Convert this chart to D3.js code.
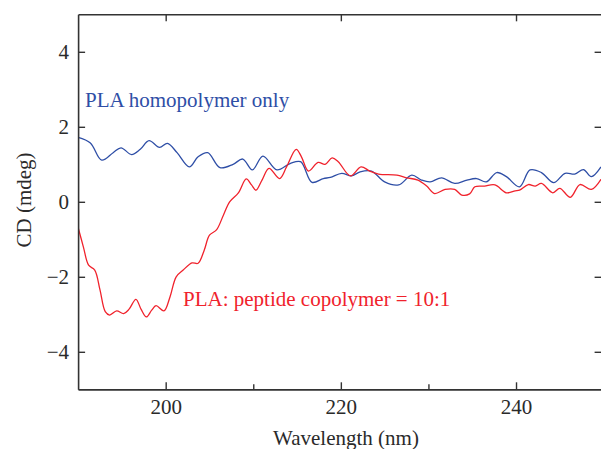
<!DOCTYPE html>
<html>
<head>
<meta charset="utf-8">
<script src="https://cdn.jsdelivr.net/npm/d3@7"></script>
<style>
 body { margin: 0; background: #fff; }
 svg text { font-family: "Liberation Serif", "DejaVu Serif", serif; }
</style>
</head>
<body>
<script>
'use strict'
// CD spectra: PLA homopolymer vs PLA:peptide copolymer

// wavelength (nm) and CD (mdeg) for the homopolymer
const homoWave = [190.0, 191.4, 192.7, 194.0, 194.9, 196.1, 197.1, 198.1, 199.3, 200.2, 201.3, 202.7, 203.7, 204.8, 206.2, 207.7, 208.8, 209.9, 211.1, 212.7, 214.2, 215.4, 216.7, 218.0, 218.8, 220.1, 221.2, 222.2, 223.5, 225.0, 226.6, 228.1, 229.2, 230.2, 231.5, 233.0, 234.4, 235.5, 236.6, 237.8, 238.9, 240.4, 241.6, 242.9, 244.3, 245.6, 246.7, 247.7, 248.6, 249.7];
const homoCD = [1.72, 1.57, 1.11, 1.31, 1.44, 1.26, 1.40, 1.63, 1.45, 1.56, 1.31, 0.93, 1.20, 1.31, 0.91, 1.00, 1.14, 0.85, 1.22, 0.85, 1.02, 1.07, 0.52, 0.62, 0.65, 0.76, 0.69, 0.80, 0.82, 0.53, 0.45, 0.71, 0.58, 0.53, 0.64, 0.49, 0.58, 0.62, 0.53, 0.78, 0.67, 0.40, 0.85, 0.78, 0.51, 0.76, 0.74, 0.86, 0.67, 0.93];

// wavelength (nm) and CD (mdeg) for the 10:1 copolymer
const copoWave = [190.0, 190.6, 191.2, 191.9, 192.5, 193.1, 193.6, 194.4, 195.2, 195.8, 196.6, 197.2, 197.8, 198.4, 198.9, 199.8, 200.5, 201.2, 202.0, 203.0, 203.7, 204.4, 205.0, 205.8, 206.6, 207.3, 208.3, 209.2, 209.8, 210.3, 211.0, 211.8, 213.0, 213.8, 214.9, 215.5, 216.3, 217.4, 218.2, 219.0, 219.7, 221.1, 222.3, 223.3, 224.3, 226.4, 227.5, 228.8, 229.8, 230.7, 231.9, 233.0, 233.8, 234.7, 235.3, 236.4, 237.6, 238.9, 239.9, 240.4, 241.4, 242.2, 242.9, 244.2, 245.0, 246.2, 247.3, 248.6, 249.7];
const copoCD = [-0.68, -1.20, -1.69, -1.82, -2.35, -2.93, -3.02, -2.91, -2.98, -2.87, -2.60, -2.87, -3.07, -2.89, -2.77, -2.91, -2.53, -2.00, -1.82, -1.63, -1.64, -1.29, -0.89, -0.75, -0.35, 0.00, 0.24, 0.61, 0.45, 0.31, 0.58, 0.89, 0.62, 0.93, 1.40, 1.20, 0.82, 1.05, 1.00, 1.17, 1.07, 0.69, 0.93, 0.82, 0.74, 0.71, 0.64, 0.58, 0.42, 0.22, 0.33, 0.33, 0.18, 0.21, 0.40, 0.42, 0.45, 0.24, 0.29, 0.31, 0.46, 0.42, 0.49, 0.24, 0.36, 0.12, 0.46, 0.33, 0.60];

const xTicks = [200, 220, 240];
const xMinorTicks = [210, 230];
const yTicks = [-4, -2, 0, 2, 4];

const width = 601, height = 449;
const plotLeft = 78.1, plotRight = 603.6, plotTop = 14.3, plotBottom = 389.3;
const fontSize = "21px";

let svg = d3.select("body").append("svg")
 .attr("width", width)
 .attr("height", height);

let x = d3.scaleLinear().domain([190, 250]).range([plotLeft, plotRight]);
let y = d3.scaleLinear().domain([-5, 5]).range([plotBottom, plotTop]);

// clip for the curves
svg.append("clipPath").attr("id", "plot")
 .append("rect")
 .attr("x", plotLeft).attr("y", plotTop)
 .attr("width", plotRight - plotLeft).attr("height", plotBottom - plotTop);

let line = d3.line()
 .x(d => x(d[0]))
 .y(d => y(d[1]))
 .curve(d3.curveCatmullRom.alpha(0.5));

svg.append("path")
 .datum(d3.zip(homoWave, homoCD))
 .attr("clip-path", "url(#plot)")
 .attr("fill", "none")
 .attr("stroke", "#2e4ea6")
 .attr("stroke-width", 1.3)
 .attr("d", line);

svg.append("path")
 .datum(d3.zip(copoWave, copoCD))
 .attr("clip-path", "url(#plot)")
 .attr("fill", "none")
 .attr("stroke", "#f0222c")
 .attr("stroke-width", 1.3)
 .attr("d", line);

// axes, ticks pointing inward
function styleAxis(g) {
 g.select(".domain").attr("stroke", "#333").attr("stroke-width", 1.6);
 g.selectAll(".tick line").attr("stroke", "#333").attr("stroke-width", 1.4);
 g.selectAll(".tick text")
  .attr("fill", "#2a2a2a")
  .style("font-family", "'Liberation Serif', serif")
  .style("font-size", fontSize);
}

svg.append("g")
 .attr("transform", `translate(0,${plotBottom})`)
 .call(d3.axisBottom(x).tickValues(xTicks).tickSizeInner(-7).tickSizeOuter(0).tickPadding(10))
 .call(styleAxis);

svg.append("g")
 .attr("transform", `translate(0,${plotBottom})`)
 .call(d3.axisBottom(x).tickValues(xMinorTicks).tickSizeInner(-5).tickSizeOuter(0).tickFormat(""))
 .call(styleAxis);

svg.append("g")
 .attr("transform", `translate(0,${plotTop})`)
 .call(d3.axisTop(x).tickValues(xTicks).tickSizeInner(-7).tickSizeOuter(0).tickFormat(""))
 .call(styleAxis);

svg.append("g")
 .attr("transform", `translate(${plotLeft},0)`)
 .call(d3.axisLeft(y).tickValues(yTicks).tickSizeInner(-7).tickSizeOuter(0).tickPadding(9)
  .tickFormat(d => d < 0 ? "\u2212" + Math.abs(d) : d))
 .call(styleAxis);

svg.append("g")
 .attr("transform", `translate(${plotRight},0)`)
 .call(d3.axisRight(y).tickValues(yTicks).tickSizeInner(-9).tickSizeOuter(0).tickFormat(""))
 .call(styleAxis);

// axis titles
svg.append("text")
 .attr("x", 346)
 .attr("y", 445)
 .attr("text-anchor", "middle")
 .attr("fill", "#2a2a2a")
 .style("font-size", fontSize)
 .text("Wavelength (nm)");

svg.append("text")
 .attr("transform", "translate(31,200) rotate(-90)")
 .attr("text-anchor", "middle")
 .attr("fill", "#2a2a2a")
 .style("font-size", fontSize)
 .text("CD (mdeg)");

// series labels
svg.append("text")
 .attr("x", 85)
 .attr("y", 107)
 .attr("fill", "#2e4ea6")
 .style("font-size", fontSize)
 .text("PLA homopolymer only");

svg.append("text")
 .attr("x", 183)
 .attr("y", 306)
 .attr("fill", "#f0222c")
 .style("font-size", fontSize)
 .text("PLA: peptide copolymer = 10:1");
</script>
</body>
</html>
